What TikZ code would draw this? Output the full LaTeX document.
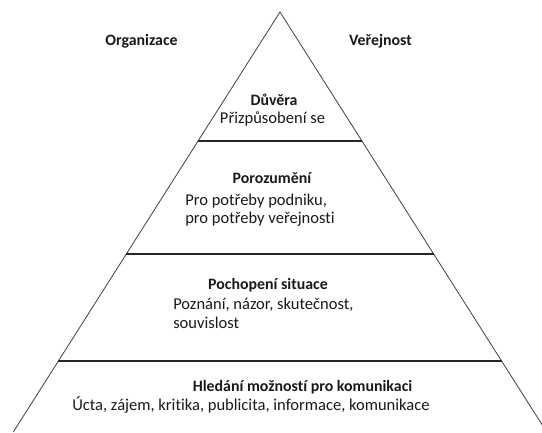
\documentclass[tikz,border=0pt]{standalone}
\usepackage{fontspec}
\setmainfont{Carlito}[Ligatures=NoCommon]
\begin{document}
\begin{tikzpicture}[x=0.75pt,y=-0.75pt,
  txt/.style={inner sep=0pt,font=\fontsize{12.4}{14}\selectfont,text=black!90},
  ttl/.style={txt,font=\fontsize{11.9}{14}\selectfont\bfseries},
  edge/.style={draw=black!75,line width=0.6pt},
  level/.style={draw=black!85,line width=0.8pt}]
\useasboundingbox (0,0) rectangle (542,432);
\clip (0,0) rectangle (542,432);
% triangle
\coordinate (apex) at (280,12);
\coordinate (bl) at (13.3,432);
\coordinate (br) at (546.7,432);
\draw[edge] (bl) -- (apex) -- (br);
% level lines
\coordinate (l1a) at (198,141);   \coordinate (l1b) at (362,141);
\coordinate (l2a) at (126.3,254); \coordinate (l2b) at (433.7,254);
\coordinate (l3a) at (58.4,361);  \coordinate (l3b) at (501.6,361);
\draw[level] (l1a) -- (l1b);
\draw[level] (l2a) -- (l2b);
\draw[level] (l3a) -- (l3b);
% side labels
\node[ttl,anchor=base] (org) at (141.5,45) {Organizace};
\node[ttl,anchor=base] (ver) at (380.5,45) {Veřejnost};
% level 1
\node[ttl,anchor=base] (duv) at (274,105) {Důvěra};
\node[txt,anchor=base] (pri) at (272.5,123) {Přizpůsobení se};
% level 2
\node[ttl,anchor=base] (por) at (272,183) {Porozumění};
\node[txt,anchor=base west] (por1) at (185,205) {Pro potřeby podniku,};
\node[txt,anchor=base west] (por2) at (185,223) {pro potřeby veřejnosti};
% level 3
\node[ttl,anchor=base] (poch) at (268,289) {Pochopení situace};
\node[txt,anchor=base west] (poch1) at (173,309) {Poznání, názor, skutečnost,};
\node[txt,anchor=base west] (poch2) at (173,328) {souvislost};
% level 4
\node[ttl,anchor=base] (hled) at (302.5,391) {Hledání možností pro komunikaci};
\node[txt,anchor=base west] (hled1) at (72,410) {Úcta, zájem, kritika, publicita, informace, komunikace};
\end{tikzpicture}
\end{document}
